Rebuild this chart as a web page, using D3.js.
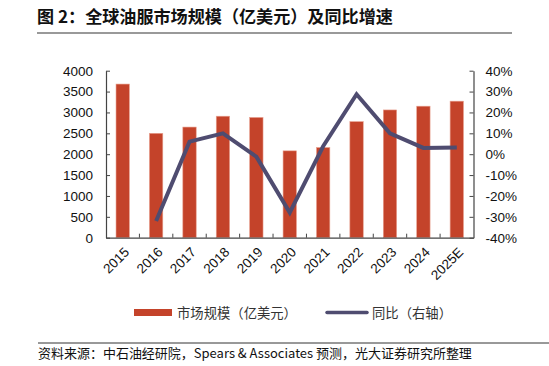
<!DOCTYPE html>
<html lang="zh">
<head>
  <meta charset="UTF-8" />
  <title>全球油服市场规模</title>
  <script src="https://d3js.org/d3.v7.min.js"></script>
  <style>
    body { margin: 0; background: white; font-family: "Liberation Sans", Arial, sans-serif; }
    .cjk { font-family: "Noto Sans CJK SC", sans-serif; }
  </style>
</head>
<body>
  <svg id="chart" width="549" height="366"></svg>

  <script>
    const years = ["2015", "2016", "2017", "2018", "2019", "2020", "2021", "2022", "2023", "2024", "2025E"];
    const marketSize = [3680, 2500, 2650, 2910, 2880, 2080, 2160, 2780, 3060, 3150, 3270];
    const yoy = [null, -32, 6, 10, -1.2, -28, 3.8, 28.7, 10, 3, 3.2];
    const leftTicks = [0, 500, 1000, 1500, 2000, 2500, 3000, 3500, 4000];
    const rightTicks = [-40, -30, -20, -10, 0, 10, 20, 30, 40];

    const barColor = "#c4432a";
    const lineColor = "#4f4c70";
    const axisColor = "#444";

    const svg = d3.select("#chart");
    const plotL = 106, plotR = 473.5, plotT = 70.7, plotB = 237.7;

    // scale font so text spans the width seen in the reference
    function fitWidth(sel, w) {
      const n = sel.node();
      const fs = +sel.attr("font-size");
      const len = n.getComputedTextLength();
      if (len > 0) sel.attr("font-size", (fs * w / len).toFixed(2));
      return sel;
    }

    // title
    const title = svg.append("text")
      .attr("class", "cjk")
      .attr("x", 37).attr("y", 23)
      .attr("font-size", 16).attr("font-weight", "bold")
      .attr("fill", "#111")
      .text("图 2：全球油服市场规模（亿美元）及同比增速");
    fitWidth(title, 356);
    svg.append("line")
      .attr("x1", 37).attr("x2", 512).attr("y1", 33).attr("y2", 33)
      .attr("stroke", "#777").attr("stroke-width", 1.5);

    const x = d3.scaleBand().domain(years).range([plotL, plotR]);
    const yL = d3.scaleLinear().domain([0, 4000]).range([plotB, plotT]);
    const yR = d3.scaleLinear().domain([-40, 40]).range([plotB, plotT]);

    // bars
    const bw = x.bandwidth() * 0.4;
    svg.append("g").selectAll("rect")
      .data(marketSize)
      .join("rect")
      .attr("x", (d, i) => x(years[i]) + x.bandwidth() / 2 - bw / 2)
      .attr("y", d => yL(d))
      .attr("width", bw)
      .attr("height", d => yL(0) - yL(d))
      .attr("fill", barColor)
      .attr("stroke", "#e8a08f")
      .attr("stroke-width", 0.6);

    // line
    const pts = yoy.map((v, i) => [years[i], v]).filter(d => d[1] !== null);
    svg.append("path")
      .datum(pts)
      .attr("fill", "none")
      .attr("stroke", lineColor)
      .attr("stroke-width", 4)
      .attr("stroke-linejoin", "miter")
      .attr("d", d3.line().x(d => x(d[0]) + x.bandwidth() / 2).y(d => yR(d[1])));

    // left axis
    const gL = svg.append("g").attr("transform", `translate(${plotL},0)`)
      .call(d3.axisLeft(yL).tickValues(leftTicks).tickFormat(d3.format("d"))
        .tickSizeInner(-4).tickSizeOuter(0).tickPadding(13));
    // right axis
    const gR = svg.append("g").attr("transform", `translate(${plotR},0)`)
      .call(d3.axisRight(yR).tickValues(rightTicks).tickFormat(d => d + "%")
        .tickSizeInner(-4).tickSizeOuter(0).tickPadding(12));
    // bottom axis
    const gB = svg.append("g").attr("transform", `translate(0,${plotB})`)
      .call(d3.axisBottom(x).tickSize(0).tickFormat(""));
    gB.selectAll(".tick").remove();
    gB.selectAll(".bt")
      .data(years.slice(1))
      .join("line")
      .attr("x1", d => x(d)).attr("x2", d => x(d))
      .attr("y1", 0).attr("y2", -4)
      .attr("stroke", axisColor);

    [gL, gR, gB].forEach(g => {
      g.selectAll(".domain").attr("stroke", axisColor).attr("stroke-width", 1.2);
      g.selectAll(".tick line").attr("stroke", axisColor);
      g.selectAll("text").attr("font-size", 13.5).attr("fill", "#111")
        .attr("font-family", "Liberation Sans, Arial, sans-serif");
    });

    // x labels rotated
    svg.append("g").selectAll("text")
      .data(years)
      .join("text")
      .attr("transform", d => `translate(${x(d) + x.bandwidth() / 2 + 4},${plotB + 12}) rotate(-45)`)
      .attr("text-anchor", "end")
      .attr("dy", "0.35em")
      .attr("font-size", 13.5)
      .attr("fill", "#111")
      .text(d => d);

    // legend
    const lg = svg.append("g").attr("class", "cjk").attr("fill", "#333");
    lg.append("rect").attr("x", 134).attr("y", 309).attr("width", 38).attr("height", 7).attr("fill", barColor);
    fitWidth(lg.append("text").attr("x", 177).attr("y", 317.5).attr("font-size", 12).text("市场规模（亿美元）"), 120);
    lg.append("line").attr("x1", 327).attr("x2", 367).attr("y1", 312.5).attr("y2", 312.5)
      .attr("stroke", lineColor).attr("stroke-width", 3.5).attr("stroke-linecap", "round");
    fitWidth(lg.append("text").attr("x", 372).attr("y", 317.5).attr("font-size", 12).text("同比（右轴）"), 80);

    // source
    svg.append("line")
      .attr("x1", 38).attr("x2", 549).attr("y1", 343).attr("y2", 343)
      .attr("stroke", "#333").attr("stroke-width", 1);
    const src = svg.append("text")
      .attr("class", "cjk")
      .attr("x", 38).attr("y", 358)
      .attr("font-size", 12).attr("fill", "#111")
      .text("资料来源：中石油经研院，Spears & Associates 预测，光大证券研究所整理");
    fitWidth(src, 434);
  </script>
</body>
</html>
